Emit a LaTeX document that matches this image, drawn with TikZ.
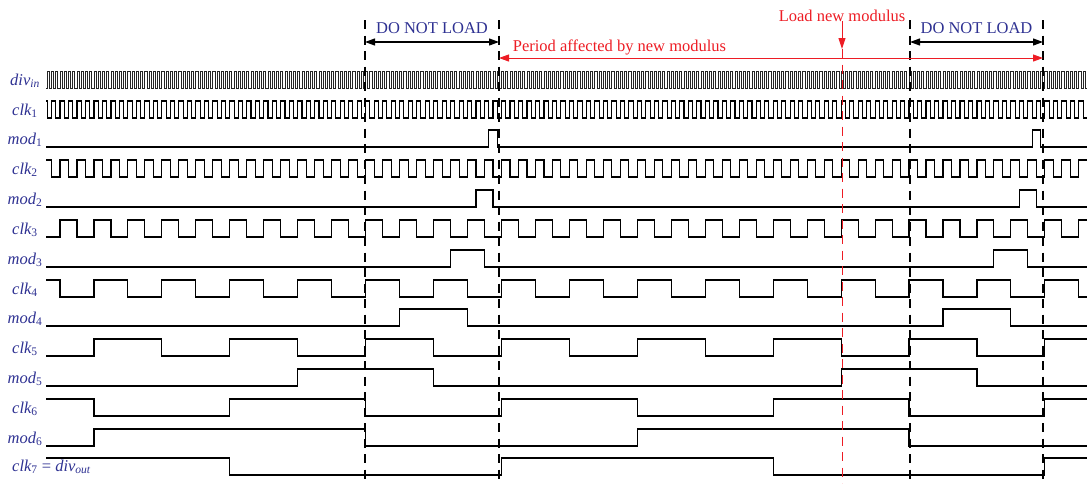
\documentclass[tikz,border=0pt]{standalone}
\usepackage{fontspec}
\setmainfont{Liberation Serif}
\usetikzlibrary{arrows.meta}

\definecolor{sigblue}{RGB}{46,49,146}
\definecolor{modred}{RGB}{237,28,36}

\newcommand{\sigfont}{\fontsize{16.5}{19}\selectfont\itshape}
\newcommand{\notefont}{\fontsize{16.5}{19}\selectfont}
\newcommand{\idx}[1]{\textsubscript{\upshape#1}}

% one div_in period (px) and the common rising edge t=0
\def\tunit{4.245}
\def\tzero{501.5}
\def\amp{17}

% clock row: [style] {low level} {period in div_in periods}
\newcommand{\clkwave}[3][]{%
  \pgfmathtruncatemacro{\na}{floor(-110/#3)}%
  \pgfmathtruncatemacro{\nb}{ceil(140/#3)}%
  \begin{scope}
    \clip (46,#2+3) rectangle (1087,#2-\amp-3);
    \draw[wave,#1] ({\tzero+\na*#3*\tunit},#2)
      \foreach \n in {\na,...,\nb} {-- ++(0,-\amp) -- ++({#3*\tunit/2},0) -- ++(0,\amp) -- ++({#3*\tunit/2},0)};
  \end{scope}}

% modulus row: {low level} {half period of the clock above}
\newcommand{\modwave}[2]{%
  \draw[wave] (46,#1) -- ({\tzero-3*#2*\tunit},#1) -- ++(0,-\amp)
    -- ({\tzero-#2*\tunit},#1-\amp) -- ++(0,\amp)
    -- ({\tzero+(128-3*#2)*\tunit},#1) -- ++(0,-\amp)
    -- ({\tzero+(128-#2)*\tunit},#1-\amp) -- ++(0,\amp) -- (1087,#1);}

\begin{document}
\begin{tikzpicture}[x=1pt, y=-1pt,
  wave/.style={line width=1.1pt, line join=miter},
  fastwave/.style={line width=0.9pt, draw=black!85},
  sig/.style={font=\sigfont, text=sigblue, anchor=base, inner sep=0pt},
  dnltext/.style={font=\notefont, text=sigblue, anchor=base, inner sep=0pt},
  redtext/.style={font=\notefont, text=modred, anchor=base, inner sep=0pt},
  guide/.style={line width=1.1pt, dash pattern=on 9pt off 6.5pt},
  redguide/.style={draw=modred, line width=0.9pt, dash pattern=on 9pt off 6.5pt},
  dnlarrow/.style={{Triangle[length=10pt,width=7pt]}-{Triangle[length=10pt,width=7pt]}, line width=1.2pt},
  redarrow/.style={{Triangle[length=10pt,width=7pt]}-{Triangle[length=10pt,width=7pt]}, draw=modred, line width=1pt},
  loadarrow/.style={-{Triangle[length=11pt,width=7pt]}, draw=modred, line width=1pt}
]
  \useasboundingbox (0,0) rectangle (1087,483);

  % signal names
  \node[sig] (ldivin) at (25,85)  {div\textsubscript{in}};
  \node[sig] (lclk1)  at (25,115) {clk\idx{1}};
  \node[sig] (lmod1)  at (25,144) {mod\idx{1}};
  \node[sig] (lclk2)  at (25,174) {clk\idx{2}};
  \node[sig] (lmod2)  at (25,204) {mod\idx{2}};
  \node[sig] (lclk3)  at (25,234) {clk\idx{3}};
  \node[sig] (lmod3)  at (25,264) {mod\idx{3}};
  \node[sig] (lclk4)  at (25,294) {clk\idx{4}};
  \node[sig] (lmod4)  at (25,323) {mod\idx{4}};
  \node[sig] (lclk5)  at (25,353) {clk\idx{5}};
  \node[sig] (lmod5)  at (25,383) {mod\idx{5}};
  \node[sig] (lclk6)  at (25,413) {clk\idx{6}};
  \node[sig] (lmod6)  at (25,443) {mod\idx{6}};
  \node[sig, anchor=base west] (lclk7) at (12,471) {clk\idx{7} {\upshape=} div\textsubscript{out}};

  % waveforms
  \clkwave[fastwave]{88}{1}
  \clkwave{118}{2}
  \modwave{147}{1}
  \clkwave{177}{4}
  \modwave{207}{2}
  \clkwave{237}{8}
  \modwave{267}{4}
  \clkwave{297}{16}
  \modwave{326}{8}
  \clkwave{356}{32}
  \modwave{386}{16}
  \clkwave{416}{64}
  \modwave{446}{32}
  \clkwave{475}{128}

  % window boundaries
  \coordinate (g1) at (365,20);
  \coordinate (g2) at (499,20);
  \coordinate (g3) at (910,20);
  \coordinate (g4) at (1043,20);
  \foreach \g in {g1,g2,g3,g4}
    \draw[guide] (\g) -- (\g |- 0,483);

  \node[dnltext] (dnl1) at (432,33)   {DO NOT LOAD};
  \node[dnltext] (dnl2) at (976.5,33) {DO NOT LOAD};
  \draw[dnlarrow] (g1 |- 0,42) -- (g2 |- 0,42);
  \draw[dnlarrow] (g3 |- 0,42) -- (g4 |- 0,42);

  \node[redtext] (period) at (619.5,51) {Period affected by new modulus};
  \draw[redarrow] (g2 |- 0,58) -- (g4 |- 0,58);

  \node[redtext] (load) at (842,21) {Load new modulus};
  \coordinate (loadtip) at (842,49);
  \draw[loadarrow] (load.south) -- (loadtip);
  \draw[redguide] (loadtip) -- (loadtip |- 0,483);
\end{tikzpicture}
\end{document}
